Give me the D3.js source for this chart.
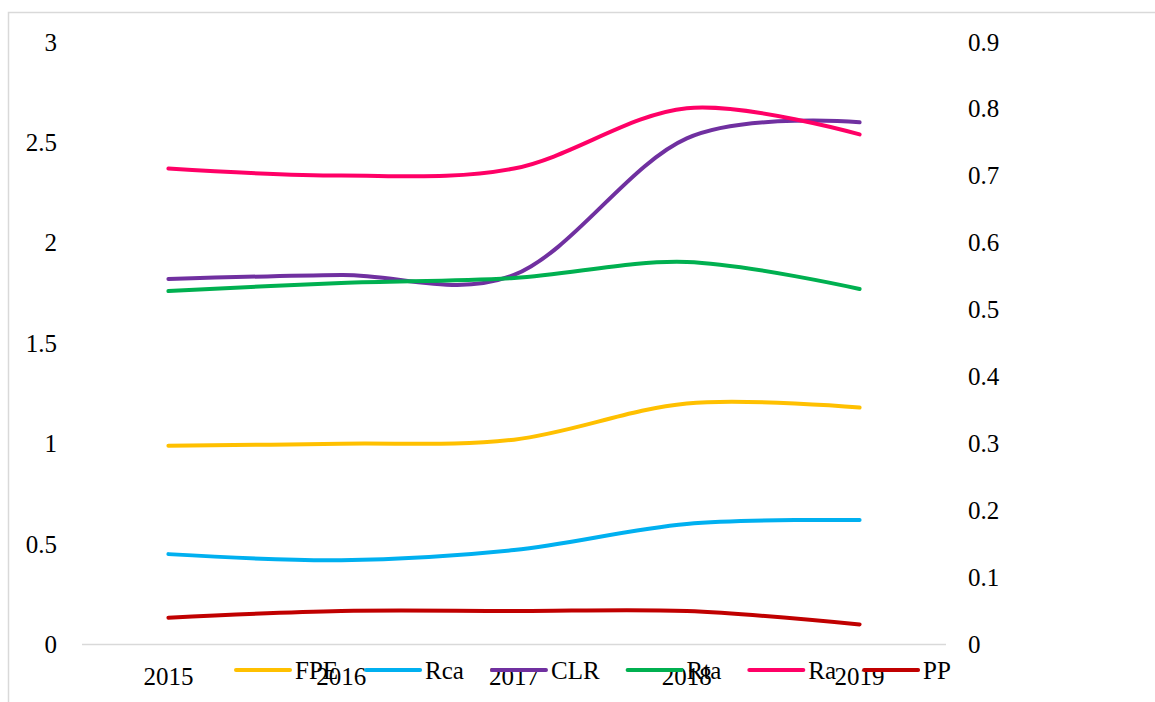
<!DOCTYPE html>
<html>
<head>
<meta charset="utf-8">
<script src="https://cdn.jsdelivr.net/npm/d3@7"></script>
<style>
  body { margin: 0; background: #fff; }
</style>
</head>
<body>
<div id="chart"></div>
<script>
// ---- data ----
var years = ["2015", "2016", "2017", "2018", "2019"];
var FPE = [0.99, 1.00, 1.02, 1.20, 1.18];
var Rca = [0.45, 0.42, 0.47, 0.60, 0.62];
var CLR = [1.82, 1.84, 1.84, 2.52, 2.60];
var Rta = [1.76, 1.80, 1.825, 1.905, 1.77];
var Ra  = [2.37, 2.335, 2.37, 2.67, 2.54];
var PP  = [0.04, 0.05, 0.05, 0.05, 0.03];   // secondary axis
var leftTicks = [0, 0.5, 1, 1.5, 2, 2.5, 3];
var rightTicks = [0, 0.1, 0.2, 0.3, 0.4, 0.5, 0.6, 0.7, 0.8, 0.9];

var series = [
  {name: "FPE", values: FPE, color: "#FFC000", axis: "L"},
  {name: "Rca", values: Rca, color: "#00B0F0", axis: "L"},
  {name: "CLR", values: CLR, color: "#7030A0", axis: "L"},
  {name: "Rta", values: Rta, color: "#00B050", axis: "L"},
  {name: "Ra",  values: Ra,  color: "#FF0066", axis: "L"},
  {name: "PP",  values: PP,  color: "#C00000", axis: "R"}
];

var FONT = "'Liberation Serif', 'Times New Roman', serif";
var FS = "25px";
var W = 1155, H = 702;
var svg = d3.select("#chart").append("svg").attr("width", W).attr("height", H)
  .style("font-family", FONT);

// outer chart border
svg.append("rect")
  .attr("x", 8.5).attr("y", 12.5)
  .attr("width", 1160).attr("height", 700)
  .attr("fill", "none").attr("stroke", "#d9d9d9").attr("stroke-width", 1.5);

var x = d3.scaleBand().domain(years).range([82, 946]);
var yL = d3.scaleLinear().domain([0, 3]).range([644.5, 42]);
var yR = d3.scaleLinear().domain([0, 0.9]).range([644.5, 42]);

svg.append("line")
  .attr("x1", x.range()[0]).attr("x2", x.range()[1])
  .attr("y1", 644.5).attr("y2", 644.5)
  .attr("stroke", "#d9d9d9").attr("stroke-width", 1.5);

// left axis
var gl = svg.append("g").attr("transform", "translate(66,0)")
  .call(d3.axisLeft(yL).tickValues(leftTicks).tickSize(0).tickPadding(9).tickFormat(d3.format("")));
// right axis
var gr = svg.append("g").attr("transform", "translate(959,0)")
  .call(d3.axisRight(yR).tickValues(rightTicks).tickSize(0).tickPadding(9).tickFormat(d => d === 0 ? "0" : d3.format(".1f")(d)));
// category axis
var gb = svg.append("g").attr("transform", "translate(0,644.5)")
  .call(d3.axisBottom(x).tickSize(0).tickPadding(23));

[gl, gr, gb].forEach(function(g){
  g.select(".domain").remove();
  g.attr("font-family", FONT).attr("font-size", 25);
  g.selectAll("text").attr("fill", "#000").style("font-family", FONT).style("font-size", FS);
});

// lines
var cx = d => x(d) + x.bandwidth() / 2;
series.forEach(function(s){
  var yy = s.axis === "L" ? yL : yR;
  var line = d3.line()
    .x((d, i) => cx(years[i]))
    .y(d => yy(d))
    .curve(d3.curveCardinal.tension(0));
  svg.append("path")
    .datum(s.values)
    .attr("d", line)
    .attr("fill", "none")
    .attr("stroke", s.color)
    .attr("stroke-width", 4)
    .attr("stroke-linecap", "round");
});

// legend
var leg = svg.append("g");
var lx = 236;
series.forEach(function(s){
  var it = leg.append("g").attr("transform", "translate(" + lx + ",670)");
  it.append("line").attr("x1", 0).attr("x2", 54).attr("y1", 0).attr("y2", 0)
    .attr("stroke", s.color).attr("stroke-width", 4).attr("stroke-linecap", "round");
  var t = it.append("text").attr("x", 59).attr("y", 9)
    .style("font-family", FONT).style("font-size", FS).attr("fill", "#000").text(s.name);
  lx += 59 + t.node().getComputedTextLength() + 28;
});
</script>
</body>
</html>
